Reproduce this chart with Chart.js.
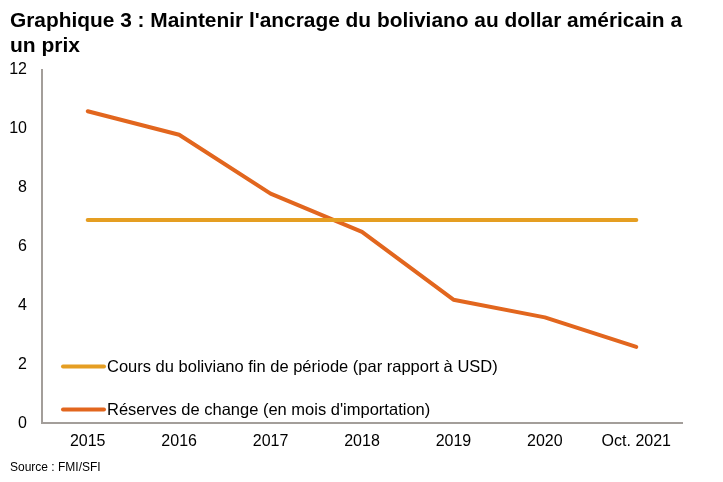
<!DOCTYPE html>
<html>
<head>
<meta charset="utf-8">
<script src="https://cdn.jsdelivr.net/npm/chart.js@4/dist/chart.umd.min.js"></script>
<style>
  html, body { margin: 0; padding: 0; background: #fff; }
  #wrap { width: 723px; height: 482px; position: relative; }
</style>
</head>
<body>
<div id="wrap"><canvas id="chart"></canvas></div>
<script>
// Data
const categories = ["2015", "2016", "2017", "2018", "2019", "2020", "Oct. 2021"];
const exchangeRate = [6.91, 6.91, 6.91, 6.91, 6.91, 6.91, 6.91]; // bolivianos per USD
const reserves = [10.6, 9.8, 7.8, 6.5, 4.2, 3.6, 2.6];           // months of imports
const yTicks = [0, 2, 4, 6, 8, 10, 12];

const FONT = "'Liberation Sans', Arial, sans-serif";

// legend drawn inside the plot area, bottom left
const insideLegend = {
    id: "insideLegend",
    afterDraw(chart) {
        const ctx = chart.ctx;
        const area = chart.chartArea;
        const sets = chart.data.datasets;
        ctx.save();
        ctx.font = "16.5px " + FONT;
        ctx.textBaseline = "middle";
        sets.forEach((ds, i) => {
            let y = area.bottom - 57 + i * 43;
            let x0 = area.left + 21;
            ctx.strokeStyle = ds.borderColor;
            ctx.lineWidth = 4;
            ctx.lineCap = "round";
            ctx.beginPath();
            ctx.moveTo(x0, y);
            ctx.lineTo(x0 + 41, y);
            ctx.stroke();
            ctx.fillStyle = "#000";
            ctx.fillText(ds.label, x0 + 44, y + 1);
        });
        ctx.restore();
    }
};

new Chart(document.getElementById("chart"), {
    type: "line",
    data: {
        labels: categories,
        datasets: [{
            label: "Cours du boliviano fin de période (par rapport à USD)",
            data: exchangeRate,
            borderColor: "#E59E22",
            borderWidth: 4,
            borderCapStyle: "round",
            pointRadius: 0,
            tension: 0
        }, {
            label: "Réserves de change (en mois d'importation)",
            data: reserves,
            borderColor: "#E2661E",
            borderWidth: 4,
            borderCapStyle: "round",
            borderJoinStyle: "round",
            pointRadius: 0,
            tension: 0
        }]
    },
    options: {
        responsive: true,
        maintainAspectRatio: false,
        animation: false,
        layout: { padding: { left: 10, right: 41, top: 5, bottom: 7 } },
        scales: {
            x: {
                offset: true,
                grid: { display: false, drawTicks: false },
                border: { display: true, color: "#A39E9A", width: 2 },
                ticks: { color: "#000", font: { family: FONT, size: 16 }, padding: 9, maxRotation: 0 }
            },
            y: {
                min: 0,
                max: 12,
                afterBuildTicks: axis => { axis.ticks = yTicks.map(v => ({ value: v })); },
                afterFit: axis => { axis.width = 32; },
                grid: { display: false, drawTicks: false },
                border: { display: true, color: "#A39E9A", width: 2 },
                ticks: { color: "#000", font: { family: FONT, size: 16 }, padding: 15 }
            }
        },
        plugins: {
            legend: { display: false },
            tooltip: { enabled: false },
            title: {
                display: true,
                align: "start",
                text: ["Graphique 3 : Maintenir l'ancrage du boliviano au dollar américain a", "un prix"],
                color: "#000",
                font: { family: FONT, size: 21, weight: "bold", lineHeight: 1.19 },
                padding: { top: 4, bottom: 11 }
            },
            subtitle: {
                display: true,
                position: "bottom",
                align: "start",
                text: "Source : FMI/SFI",
                color: "#000",
                font: { family: FONT, size: 12 },
                padding: { top: 0, bottom: 0 }
            }
        }
    },
    plugins: [insideLegend]
});
</script>
</body>
</html>
